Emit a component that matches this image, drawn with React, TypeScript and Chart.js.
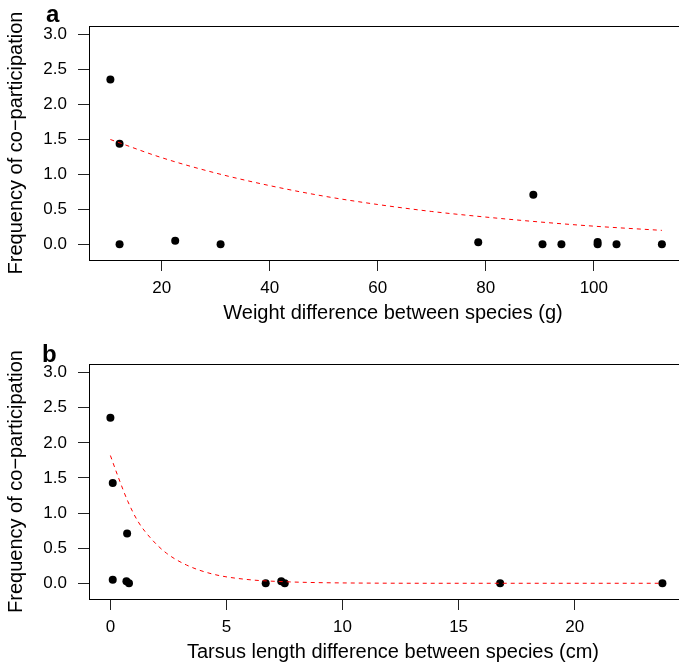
import React, { useEffect, useRef } from "react";
import { Chart, registerables } from "chart.js";

Chart.register(...registerables);

// ---------- data ----------
const yTicks = [0, 0.5, 1, 1.5, 2, 2.5, 3];
const xTicksWeight = [20, 40, 60, 80, 100];
const xTicksTarsus = [0, 5, 10, 15, 20];

// panel a: weight difference (g) vs frequency of co-participation
const weightDiff = [10.5, 12.2, 12.2, 22.5, 30.9, 78.6, 88.8, 90.5, 94.0, 100.7, 100.7, 104.2, 112.6];
const freqWeight = [2.36, 1.44, 0.0, 0.05, 0.0, 0.03, 0.71, 0.0, 0.0, 0.0, 0.035, 0.0, 0.0];

// panel b: tarsus length difference (cm) vs frequency of co-participation
const tarsusDiff = [0.0, 0.1, 0.72, 0.1, 0.69, 0.8, 6.69, 7.36, 7.51, 16.79, 23.78];
const freqTarsus = [2.36, 1.43, 0.71, 0.05, 0.03, 0.0, 0.0, 0.03, 0.0, 0.0, 0.0];

// fitted (dashed red) curves
const fitWeightX = [10.5, 20, 30, 40, 50, 60, 70, 80, 90, 100, 112.6];
const fitWeightY = [1.5, 1.24, 1.02, 0.84, 0.69, 0.57, 0.47, 0.39, 0.32, 0.26, 0.2];
const fitTarsusX = [0.0, 0.33, 0.76, 1.19, 1.77, 2.41, 3.28, 4.42, 5.86, 7.3, 10, 15, 20, 23.78];
const fitTarsusY = [1.82, 1.52, 1.16, 0.88, 0.63, 0.43, 0.26, 0.13, 0.055, 0.025, 0.005, 0.0, 0.0, 0.0];

const FONT = "'Liberation Sans', Arial, Helvetica, sans-serif";
const Y_TITLE = "Frequency of co\u2212participation";

const boxPlugin = {
  id: "rbox",
  afterDraw(chart: any) {
    const { ctx, chartArea } = chart;
    const l = Math.round(chartArea.left) + 0.5;
    const t = Math.round(chartArea.top) + 0.5;
    const r = Math.round(chartArea.right) + 0.5;
    const b = Math.round(chartArea.bottom) + 0.5;
    ctx.save();
    ctx.strokeStyle = "#000";
    ctx.lineWidth = 1;
    ctx.strokeRect(l, t, r - l, b - t);
    ctx.restore();
  },
};

type PanelProps = {
  xs: number[];
  ys: number[];
  fx: number[];
  fy: number[];
  xTicks: number[];
  xMin: number;
  xMax: number;
  xTitle: string;
  padTop: number;
  xAxisHeight: number;
  xTitlePadBottom: number;
  width: number;
  height: number;
  top: number;
};

function Panel(p: PanelProps) {
  const ref = useRef<HTMLCanvasElement | null>(null);
  useEffect(() => {
    if (!ref.current) return;
    const chart = new Chart(ref.current, {
      type: "scatter",
      data: {
        datasets: [
          {
            type: "scatter",
            showLine: true,
            data: p.fx.map((x, i) => ({ x, y: p.fy[i] })),
            borderColor: "#FF0000",
            borderWidth: 1,
            borderDash: [4, 4],
            pointRadius: 0,
            cubicInterpolationMode: "monotone",
            fill: false,
            order: 0,
          } as any,
          {
            type: "scatter",
            data: p.xs.map((x, i) => ({ x, y: p.ys[i] })),
            backgroundColor: "#000",
            borderColor: "#000",
            borderWidth: 0,
            pointRadius: 4,
            order: 1,
          } as any,
        ],
      },
      options: {
        responsive: false,
        animation: false,
        events: [],
        layout: { padding: { top: p.padTop, right: p.width - 697, left: 0, bottom: 0 } },
        plugins: { legend: { display: false }, tooltip: { enabled: false } },
        scales: {
          x: {
            type: "linear",
            position: "bottom",
            min: p.xMin,
            max: p.xMax,
            afterBuildTicks: (s: any) => {
              s.ticks = p.xTicks.map((v) => ({ value: v }));
            },
            afterFit: (s: any) => {
              s.height = p.xAxisHeight;
            },
            grid: {
              display: true,
              drawOnChartArea: false,
              drawTicks: true,
              tickLength: 11,
              color: "#000",
              tickColor: "#222",
              lineWidth: 1,
            },
            border: { display: false },
            ticks: {
              padding: 7,
              color: "#000",
              font: { family: FONT, size: 17 },
              maxRotation: 0,
              autoSkip: false,
              callback: (v: any) => String(v),
            },
            title: {
              display: true,
              text: p.xTitle,
              color: "#000",
              font: { family: FONT, size: 20 },
              padding: { top: 0, bottom: p.xTitlePadBottom },
            },
          },
          y: {
            type: "linear",
            position: "left",
            min: -0.224,
            max: 3.124,
            afterBuildTicks: (s: any) => {
              s.ticks = yTicks.map((v) => ({ value: v }));
            },
            afterFit: (s: any) => {
              s.width = 89;
            },
            grid: {
              display: true,
              drawOnChartArea: false,
              drawTicks: true,
              tickLength: 11,
              color: "#000",
              tickColor: "#222",
              lineWidth: 1,
            },
            border: { display: false },
            ticks: {
              padding: 11,
              color: "#000",
              font: { family: FONT, size: 17 },
              autoSkip: false,
              callback: (v: any) => Number(v).toFixed(1),
            },
            title: {
              display: true,
              text: Y_TITLE,
              color: "#000",
              font: { family: FONT, size: 20 },
              padding: { top: 4, bottom: 0 },
            },
          },
        },
      } as any,
      plugins: [boxPlugin],
    });
    return () => chart.destroy();
  }, []);
  return (
    <canvas
      ref={ref}
      width={p.width}
      height={p.height}
      style={{ position: "absolute", left: 0, top: p.top, display: "block", width: p.width, height: p.height }}
    />
  );
}

const labelStyle: React.CSSProperties = {
  position: "absolute",
  fontFamily: FONT,
  fontWeight: "bold",
  fontSize: 24,
  lineHeight: "24px",
  color: "#000",
};

export default function App() {
  return (
    <div
      style={{
        position: "fixed",
        left: 0,
        top: 0,
        width: 679,
        height: 669,
        overflow: "hidden",
        background: "#fff",
      }}
    >
      <Panel
        xs={weightDiff}
        ys={freqWeight}
        fx={fitWeightX}
        fy={fitWeightY}
        xTicks={xTicksWeight}
        xMin={6.54}
        xMax={119.1}
        xTitle="Weight difference between species (g)"
        padTop={26}
        xAxisHeight={75}
        xTitlePadBottom={10}
        width={710}
        height={335}
        top={0}
      />
      <Panel
        xs={tarsusDiff}
        ys={freqTarsus}
        fx={fitTarsusX}
        fy={fitTarsusY}
        xTicks={xTicksTarsus}
        xMin={-0.922}
        xMax={25.27}
        xTitle="Tarsus length difference between species (cm)"
        padTop={29}
        xAxisHeight={70}
        xTitlePadBottom={5}
        width={710}
        height={334}
        top={335}
      />
      <div style={{ ...labelStyle, left: 46, top: 2 }}>a</div>
      <div style={{ ...labelStyle, left: 42, top: 342 }}>b</div>
    </div>
  );
}
